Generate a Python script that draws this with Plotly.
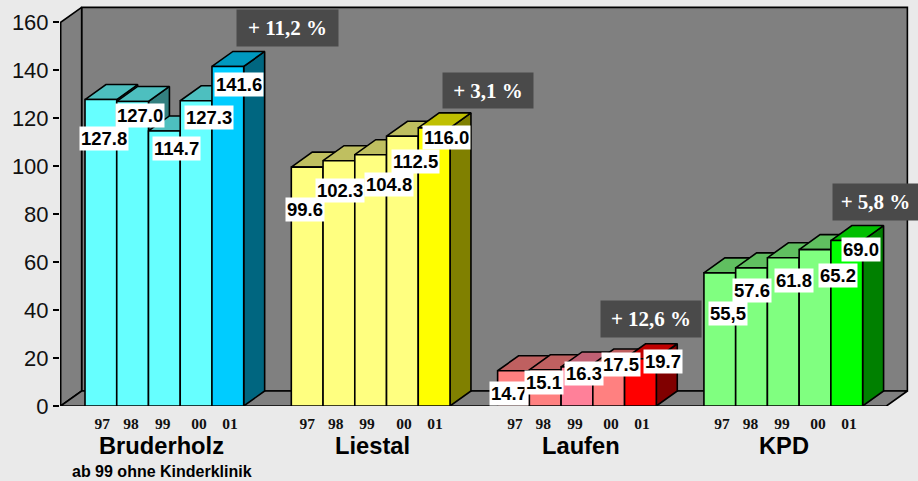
import plotly.graph_objects as go

# ---------- data ----------
GROUPS = ["Bruderholz", "Liestal", "Laufen", "KPD"]
YEARS = ["97", "98", "99", "00", "01"]
BRUDERHOLZ = [127.8, 127.0, 114.7, 127.3, 141.6]
LIESTAL = [99.6, 102.3, 104.8, 112.5, 116.0]
LAUFEN = [14.7, 15.1, 16.3, 17.5, 19.7]
KPD = [55.5, 57.6, 61.8, 65.2, 69.0]
VALUE_TEXT = [
    ["127.8", "127.0", "114.7", "127.3", "141.6"],
    ["99.6", "102.3", "104.8", "112.5", "116.0"],
    ["14.7", "15.1", "16.3", "17.5", "19.7"],
    ["55,5", "57.6", "61.8", "65.2", "69.0"],
]
GROWTH = ["+ 11,2 %", "+ 3,1 %", "+ 12,6 %", "+ 5,8 %"]
SUBTITLE = "ab 99 ohne Kinderklinik"
Y_TICKS = [0, 20, 40, 60, 80, 100, 120, 140, 160]
SERIES = [BRUDERHOLZ, LIESTAL, LAUFEN, KPD]

# ---------- colours (front, top, side) ----------
PALE = [("#66FFFF", "#4DBFBF", "#338080"), ("#FFFF80", "#BFBF60", "#808040"),
        ("#FF8080", "#BF6060", "#804040"), ("#80FF80", "#60BF60", "#408040")]
LAST = [("#00CCFF", "#0099BF", "#006680"), ("#FFFF00", "#BFBF00", "#808000"),
        ("#FF0000", "#BF0000", "#800000"), ("#00FF00", "#00BF00", "#008000")]
PINK = ("#FF8099", "#BF6073", "#80404D")
BG, WALL, BADGE = "#EAEAEA", "#808080", "#4A4A4A"

# ---------- layout constants ----------
W, H, BOTTOM = 918, 481, 75
LEFT = 60
SLOT_PX, UNIT_PX = 31.74, 2.398        # pixels per bar slot / per value unit
ORIGIN_PX, BASE_PX = 85.0, 406.0       # first bar's left edge / value zero
GROUP_PITCH = 6.5
DX, DY = 0.66, 6.25                    # 3-D depth, in axis units
X_LEFT, X_RIGHT, Y_TOP = -0.766, 25.25, 160


def px_x(p):
    return (p - ORIGIN_PX) / SLOT_PX


def paper_y(p):
    return (H - BOTTOM - p) / (H - BOTTOM)


LABEL_X = [[103.5, 140, 176.5, 208.5, 238.8], [305.3, 339.7, 388.7, 415, 446.7],
           [509, 543.7, 584, 621.3, 663], [728, 752, 794, 838, 861]]
LABEL_Y = [[138, 115.5, 148, 118, 84.5], [209.5, 190.5, 184.7, 162, 137],
           [393, 382, 373.7, 364.7, 361.5], [313.3, 290.5, 280.3, 275, 249]]
YEAR_X = [[102.3, 131, 162.7, 199, 230], [307.3, 335.7, 367, 404, 435],
          [515, 543.3, 575, 611, 642], [722, 750.5, 782, 818, 849]]
GROUP_X = [161.5, 372.7, 580.7, 784]
BADGE_BOX = [(237, 338, 10, 46), (443, 533, 73, 108), (601, 701, 301, 337), (833, 918, 184, 220)]

fig = go.Figure()


def poly(xs, ys, fill, line="#000000", lw=1.6):
    fig.add_trace(go.Scatter(
        x=xs + xs[:1], y=ys + ys[:1], mode="lines", fill="toself", fillcolor=fill,
        line=dict(color=line, width=lw), hoverinfo="skip", showlegend=False))


# walls and floor
poly([X_LEFT + DX, X_RIGHT + DX, X_RIGHT + DX, X_LEFT + DX], [DY, DY, Y_TOP + DY, Y_TOP + DY], WALL)
poly([X_LEFT, X_LEFT + DX, X_LEFT + DX, X_LEFT], [0, DY, Y_TOP + DY, Y_TOP], WALL)
poly([X_LEFT, X_RIGHT, X_RIGHT + DX, X_LEFT + DX], [0, 0, DY, DY], WALL)

# bars, painted left to right so nearer faces overlap farther ones
for g, values in enumerate(SERIES):
    for i, v in enumerate(values):
        x0 = g * GROUP_PITCH + i
        x1 = x0 + 1
        front, top, side = LAST[g] if i == 4 else PALE[g]
        if g == 2 and i == 2:
            front, top, side = PINK
        poly([x1, x1 + DX, x1 + DX, x1], [0, DY, v + DY, v], side)
        poly([x0, x1, x1 + DX, x0 + DX], [v, v, v + DY, v + DY], top)
        poly([x0, x1, x1, x0], [0, 0, v, v], front)

annotations = []
SANS, SERIF = "Liberation Sans", "Liberation Serif"
PLACE = dict(xref="x", yref="paper", xanchor="center", yanchor="middle", showarrow=False)

# data labels
for g in range(4):
    for i in range(5):
        annotations.append(dict(
            x=px_x(LABEL_X[g][i]), y=paper_y(LABEL_Y[g][i]), **PLACE,
            text=VALUE_TEXT[g][i], bgcolor="#FFFFFF", borderpad=1,
            font=dict(family=SANS, size=18.5, color="#000000", weight="bold")))

# growth badges
for (x0, x1, y0, y1), t in zip(BADGE_BOX, GROWTH):
    annotations.append(dict(
        x=px_x((x0 + x1) / 2), y=paper_y((y0 + y1) / 2), **PLACE, text=t,
        bgcolor=BADGE, width=x1 - x0, height=y1 - y0, borderpad=0,
        font=dict(family=SERIF, size=21, color="#FFFFFF", weight="bold")))

# group captions (below the axis, so placed in paper coordinates)
for gx, name in zip(GROUP_X, GROUPS):
    annotations.append(dict(
        x=px_x(gx), y=paper_y(446.5), **PLACE, text=name,
        font=dict(family=SANS, size=23.7, color="#000000", weight="bold")))
annotations.append(dict(
    x=px_x(GROUP_X[0]), y=paper_y(472), **PLACE, text=SUBTITLE,
    font=dict(family=SANS, size=16, color="#000000", weight="bold")))

fig.update_layout(
    width=W, height=H, margin=dict(l=LEFT, r=0, t=0, b=BOTTOM, pad=0),
    paper_bgcolor=BG, plot_bgcolor=BG, showlegend=False, annotations=annotations,
    xaxis=dict(
        range=[px_x(LEFT), px_x(W)], showgrid=False, zeroline=False, showline=False,
        tickmode="array", ticks="outside", ticklen=3, tickcolor="rgba(0,0,0,0)",
        tickvals=[px_x(p) for row in YEAR_X for p in row],
        ticktext=YEARS * 4,
        tickfont=dict(family=SERIF, size=15.5, color="#111111", weight="bold")),
    yaxis=dict(
        range=[0, (H - BOTTOM) / UNIT_PX], showgrid=False, zeroline=False, showline=False,
        tickmode="array", tickvals=Y_TICKS, ticks="outside", ticklen=6, tickwidth=1.5,
        tickcolor="#000000",
        tickfont=dict(family=SANS, size=22, color="#111111")),
)

fig.write_html("out.html", config={"displayModeBar": False},
               post_script="document.body.style.margin='0';document.body.style.background='#EAEAEA';")
